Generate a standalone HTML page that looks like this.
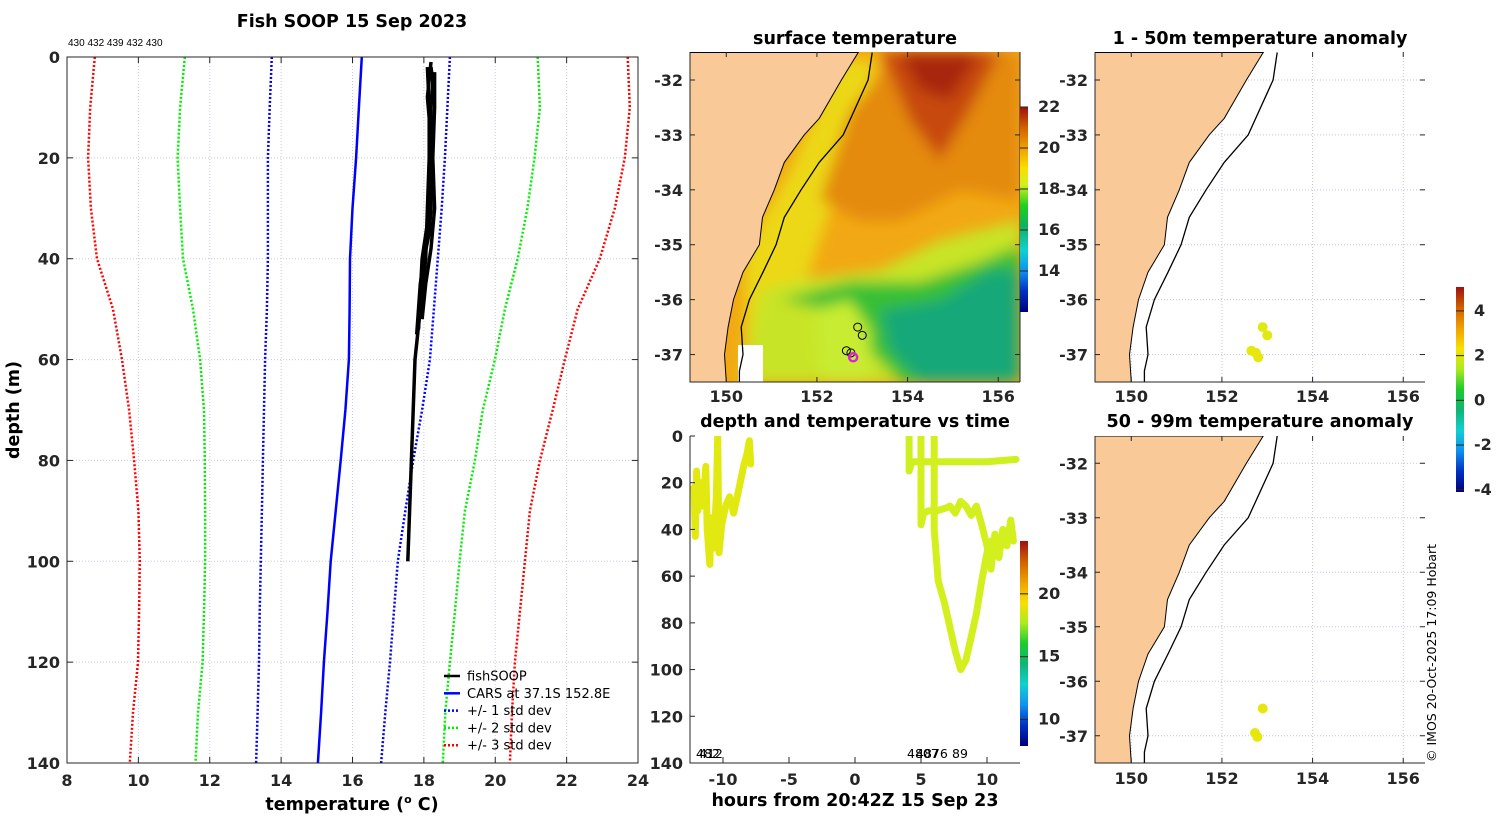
<!DOCTYPE html>
<html><head><meta charset="utf-8"><style>
body{margin:0;background:#fff;}
svg{display:block;font-family:"DejaVu Sans","Liberation Sans",sans-serif;}
.tk{font-size:16px;font-weight:bold;fill:#262626;}
.ti{font-size:17.5px;font-weight:bold;fill:#000;}
</style></head><body>
<svg id="fig" width="1500" height="820" viewBox="0 0 1500 820" xmlns="http://www.w3.org/2000/svg">
<defs>
<clipPath id="c1"><rect x="690" y="52" width="330" height="330"/></clipPath>
<clipPath id="c3"><rect x="690" y="436" width="330" height="327"/></clipPath>
<clipPath id="c4"><rect x="1095" y="52" width="330" height="330"/></clipPath>
<clipPath id="c5"><rect x="1095" y="436" width="330" height="327"/></clipPath>
<filter id="bl" x="-20%" y="-20%" width="140%" height="140%"><feGaussianBlur stdDeviation="7"/></filter>
<linearGradient id="sstcb" x1="0" y1="1" x2="0" y2="0">
<stop offset="0" stop-color="#00007a"/><stop offset="0.1" stop-color="#0030c0"/><stop offset="0.2" stop-color="#1090f0"/><stop offset="0.3" stop-color="#10d0d0"/><stop offset="0.42" stop-color="#10b060"/><stop offset="0.52" stop-color="#20d020"/><stop offset="0.62" stop-color="#d0f020"/><stop offset="0.7" stop-color="#f8e000"/><stop offset="0.8" stop-color="#f0a000"/><stop offset="0.9" stop-color="#d06000"/><stop offset="1" stop-color="#a01010"/></linearGradient>
</defs>
<g id="root"></g>
<text class="ti" x="352" y="27" text-anchor="middle">Fish SOOP 15 Sep 2023</text>
<text x="68" y="46" font-size="10" font-family="Liberation Sans, sans-serif">430 432 439 432 430</text>
<text class="ti" transform="translate(19,410) rotate(-90)" text-anchor="middle">depth (m)</text>
<text class="ti" x="352" y="810" text-anchor="middle">temperature (<tspan font-size="11" dy="-7">o</tspan><tspan dy="7"> C)</tspan></text>
<text class="ti" x="855" y="44" text-anchor="middle">surface temperature</text>
<text class="ti" x="855" y="427" text-anchor="middle">depth and temperature vs time</text>
<text class="ti" x="855" y="806" text-anchor="middle">hours from 20:42Z 15 Sep 23</text>
<text class="ti" x="1260" y="44" text-anchor="middle">1 - 50m temperature anomaly</text>
<text class="ti" x="1260" y="427" text-anchor="middle">50 - 99m temperature anomaly</text>
<text font-size="12.5" fill="#000" transform="translate(1436,762) rotate(-90)">© IMOS 20-Oct-2025 17:09 Hobart</text>
</svg>
<script>
// ---- profile data (depths in m, temps in degC) ----
const depths = [0,10,20,30,40,50,60,70,80,90,100,110,120,130,140];
const carsMean = [16.26,16.18,16.1,16.0,15.93,15.92,15.9,15.8,15.67,15.53,15.39,15.3,15.2,15.12,15.03];
const minus1 = [13.74,13.68,13.63,13.63,13.63,13.6,13.55,13.52,13.49,13.46,13.43,13.4,13.38,13.34,13.3];
const plus1 = [18.73,18.66,18.59,18.5,18.39,18.28,18.17,17.95,17.7,17.48,17.27,17.16,17.05,16.92,16.8];
const minus2 = [11.3,11.17,11.1,11.17,11.25,11.53,11.73,11.84,11.86,11.87,11.87,11.84,11.8,11.67,11.6];
const plus2 = [21.19,21.25,21.1,20.9,20.63,20.27,19.99,19.65,19.43,19.15,19.0,18.87,18.73,18.6,18.53];
const minus3 = [8.78,8.65,8.59,8.67,8.84,9.29,9.54,9.74,9.88,10.0,10.04,10.02,9.99,9.85,9.76];
const plus3 = [23.71,23.77,23.63,23.35,22.93,22.31,21.95,21.61,21.25,20.97,20.83,20.69,20.55,20.47,20.41];
const castDepthA = [2,5,10,20,30,35,40,45,50,55];
const castTempA = [18.2,18.25,18.2,18.2,18.2,18.15,18.0,17.9,17.85,17.8];
const castDepthB = [2,10,20,30,40,50,60,70,80,90,100];
const castTempB = [18.1,18.15,18.15,18.1,18.05,17.9,17.75,17.7,17.65,17.6,17.55];
const castDepthC = [3,10,20,30,38,45,52];
const castTempC = [18.3,18.3,18.25,18.3,18.2,18.05,17.95];
const castDepthD = [1,8,16,25,33,40,47,54];
const castTempD = [18.2,18.1,18.2,18.25,18.1,17.95,17.9,17.85];
const tempTicks = [8,10,12,14,16,18,20,22,24];
const depthTicks = [0,20,40,60,80,100,120,140];
// ---- time series ----
const tA = [-12.2,-12.1,-12.0,-11.9,-11.7,-11.5,-11.3,-11.2,-11.0,-10.9,-10.7,-10.5,-10.4,-10.3,-10.1,-9.8,-9.5,-9.2,-9.0,-8.7,-8.4,-8.2,-8.0,-7.9];
const dA = [22,43,15,32,20,30,13,40,55,35,48,25,0,50,38,30,26,33,28,20,12,8,2,12];
const tB = [4.1,4.1,4.3,6,8,10,12.2];
const dB = [0,15,11,11,11,11,10];
const tC = [5.0,5.0,5.2,5.6,6.2,6.8,7.2,7.6,8.0,8.4,8.8,9.2,9.6,10.0,10.3,10.6,10.9,11.2,11.5,11.8,12.0];
const dC = [0,38,33,32,32,31,30,33,28,30,34,30,38,47,57,42,52,40,47,36,45];
const tD = [6.0,6.0,6.3,6.8,7.2,7.6,8.0,8.4,8.8,9.2,9.6,10.0,10.3];
const dD = [0,40,62,72,82,92,100,96,86,76,62,50,45];
const tsTemps = [18.6,18.0,18.1,18.1];
const hourTicks = [-10,-5,0,5,10];
// ---- map data ----
const coastLat = [-31.5,-32,-32.7,-33,-33.5,-34,-34.5,-35,-35.5,-36,-36.5,-37,-37.5];
const coastLon = [152.91,152.54,152.05,151.72,151.28,151.06,150.8,150.73,150.37,150.16,150.04,149.96,150.0];
const isoLon = [153.22,153.13,152.58,152.05,151.65,151.28,151.1,150.81,150.51,150.33,150.37,150.29,150.29];
const isoLat = [-31.5,-32,-33,-33.5,-34,-34.5,-35,-35.5,-36,-36.5,-37,-37.3,-37.5];
const stnLon = [152.9,153.0,152.65,152.75,152.8];
const stnLat = [-36.5,-36.65,-36.93,-36.97,-37.05];
const anom1 = [1.9,1.9,2.0,2.0,2.0];
const stn2Lon = [152.9,152.73,152.78];
const stn2Lat = [-36.5,-36.95,-37.02];
const anom2 = [2.0,2.0,2.0];
const lonTicks = [150,152,154,156];
const latTicks = [-32,-33,-34,-35,-36,-37];
const sstTicks = [14,16,18,20,22];
const tsCbTicks = [10,15,20];
const anomTicks = [-4,-2,0,2,4];

const NS='http://www.w3.org/2000/svg';
const root=document.getElementById('root');
function mk(tag,at,parent){const e=document.createElementNS(NS,tag);for(const k in at)e.setAttribute(k,at[k]);(parent||root).appendChild(e);return e;}
function lin(d0,d1,r0,r1){return v=>r0+(v-d0)/(d1-d0)*(r1-r0);}
function jet(v,lo,hi){const t=Math.max(0,Math.min(1,(v-lo)/(hi-lo)));
 const st=[[0,[0,0,122]],[.1,[0,48,192]],[.2,[16,144,240]],[.3,[16,208,208]],[.42,[16,176,96]],[.52,[32,208,32]],[.62,[208,240,32]],[.7,[248,224,0]],[.8,[240,160,0]],[.9,[208,96,0]],[1,[160,16,16]]];
 for(let i=1;i<st.length;i++){if(t<=st[i][0]){const a=st[i-1],b=st[i],f=(t-a[0])/(b[0]-a[0]);return 'rgb('+a[1].map((c,j)=>Math.round(c+f*(b[1][j]-c))).join(',')+')';}}return 'rgb(160,16,16)';}
function txt(x,y,s,anchor,cls){const e=mk('text',{x:x,y:y,'text-anchor':anchor,class:cls||'tk'});e.textContent=s;return e;}

// ===== Profile panel =====
const px=lin(8,24,67,638), py=lin(0,140,57,763);
tempTicks.forEach(t=>{const x=px(t);
 let g=mk('line',{x1:x,x2:x,y1:57,y2:763,stroke:'#c8c8e0','stroke-dasharray':'1,2','stroke-width':1});
 
 mk('line',{x1:x,x2:x,y1:763,y2:757,stroke:'#262626'});mk('line',{x1:x,x2:x,y1:57,y2:63,stroke:'#262626'});
 const l=txt(x,786,String(t),'middle');});
depthTicks.forEach(d=>{const y=py(d);
 let g=mk('line',{x1:67,x2:638,y1:y,y2:y,stroke:'#c8c8e0','stroke-dasharray':'1,2','stroke-width':1});
 
 mk('line',{x1:67,x2:73,y1:y,y2:y,stroke:'#262626'});mk('line',{x1:638,x2:632,y1:y,y2:y,stroke:'#262626'});
 const l=txt(60,y+6,String(d),'end');});
function prof(ts,ds,col,dash,w,name){const p=ts.map((t,i)=>px(t).toFixed(1)+','+py(ds[i]).toFixed(1)).join(' ');
 const e=mk('polyline',{points:p,fill:'none',stroke:col,'stroke-width':w,'stroke-dasharray':dash,'stroke-linejoin':'round'});
 }
prof(minus3,depths,'#ff0000','2,2',2.5,'minus-3-std-line');
prof(plus3,depths,'#ff0000','2,2',2.5,'plus-3-std-line');
prof(minus2,depths,'#00ee00','2,2',2.5,'minus-2-std-line');
prof(plus2,depths,'#00ee00','2,2',2.5,'plus-2-std-line');
prof(minus1,depths,'#0000ff','2,2',2.5,'minus-1-std-line');
prof(plus1,depths,'#0000ff','2,2',2.5,'plus-1-std-line');
prof(carsMean,depths,'#0000ff','none',2.5,'cars-mean-line');
prof(castTempA,castDepthA,'#000','none',3.5,'fishsoop-cast-a');
prof(castTempB,castDepthB,'#000','none',3.5,'fishsoop-cast-b');
prof(castTempC,castDepthC,'#000','none',3.5,'fishsoop-cast-c');
prof(castTempD,castDepthD,'#000','none',3.5,'fishsoop-cast-d');
let b=mk('rect',{x:67,y:57,width:571,height:706,fill:'none',stroke:'#262626'});

const leg=[['fishSOOP','#000','none'],['CARS at 37.1S 152.8E','#0000ff','none'],['+/- 1 std dev','#0000ff','2,2'],['+/- 2 std dev','#00ee00','2,2'],['+/- 3 std dev','#ff0000','2,2']];
leg.forEach((l,i)=>{const y=676+i*17.3;
 const ln=mk('line',{x1:444,x2:460,y1:y,y2:y,stroke:l[1],'stroke-width':2.5,'stroke-dasharray':l[2]});
 
 const t=mk('text',{x:467,y:y+4.5,'font-size':13,fill:'#000'});t.textContent=l[0];
 });

// ===== Map helpers =====
function mapAxes(x0,y0,w,h,latTop,latBot,lonLabelY,grid,name){
 const mx=lin(149.2,156.48,x0,x0+w), my=lin(latTop,latBot,y0,y0+h);
 if(grid){lonTicks.forEach(l=>{const g=mk('line',{x1:mx(l),x2:mx(l),y1:y0,y2:y0+h,stroke:'#c0c4e8','stroke-dasharray':'1,2'});});
  latTicks.forEach(l=>{const g=mk('line',{x1:x0,x2:x0+w,y1:my(l),y2:my(l),stroke:'#c0c4e8','stroke-dasharray':'1,2'});});}
 return [mx,my];}
function land(mx,my,x0,clip,name){
 const pts=coastLon.map((l,i)=>mx(l).toFixed(1)+','+my(coastLat[i]).toFixed(1));
 const g=mk('g',{'clip-path':'url(#'+clip+')'});
 const p=mk('polygon',{points:x0+','+my(-31.5)+' '+pts.join(' ')+' '+x0+','+my(-37.6),fill:'#f9c997',stroke:'#000','stroke-width':1},g);
 
 const iso=mk('polyline',{points:isoLon.map((l,i)=>mx(l).toFixed(1)+','+my(isoLat[i]).toFixed(1)).join(' '),fill:'none',stroke:'#000','stroke-width':1.3},g);
 
 return g;}
function mapTicks(mx,my,x0,y0,w,h,lonLabelY,showLon){
 latTicks.forEach(l=>{const y=my(l);mk('line',{x1:x0,x2:x0+5,y1:y,y2:y,stroke:'#262626'});mk('line',{x1:x0+w,x2:x0+w-5,y1:y,y2:y,stroke:'#262626'});
  const t=txt(x0-7,y+6,String(l),'end');});
 lonTicks.forEach(l=>{const x=mx(l);mk('line',{x1:x,x2:x,y1:y0+h,y2:y0+h-5,stroke:'#262626'});mk('line',{x1:x,x2:x,y1:y0,y2:y0+5,stroke:'#262626'});
  if(showLon){const t=txt(x,lonLabelY,String(l),'middle');}});
 mk('polyline',{points:(x0)+','+y0+' '+x0+','+(y0+h)+' '+(x0+w)+','+(y0+h),fill:'none',stroke:'#262626'});}
function cbar(x,y0,y1,lo,hi,ticks,fill,name){
 const r=mk('rect',{x:x,y:y0,width:8,height:y1-y0,fill:fill});
 const s=lin(lo,hi,y1,y0);ticks.forEach(t=>{const y=s(t);mk('line',{x1:x,x2:x+8,y1:y,y2:y,stroke:'#262626'});
  const l=txt(x+18,y+5,String(t),'start');l.setAttribute('font-size','14');});}

// ===== SST map =====
(function(){const [mx,my]=mapAxes(690,52,330,330,-31.49,-37.5,402,false);
 const g=mk('g',{'clip-path':'url(#c1)'});
 mk('rect',{x:690,y:52,width:330,height:330,fill:'#f2a814'},g);
 const f=mk('g',{filter:'url(#bl)'},g);
 mk('polygon',{points:'745,380 745,250 790,170 840,60 875,60 860,140 830,210 800,300 800,382',fill:'#ecd814'},f);
 mk('polygon',{points:'820,200 850,110 900,52 1020,52 1020,200 960,190 900,220 860,220',fill:'#e48a10'},f);
 mk('polygon',{points:'880,52 1000,52 970,110 940,160 910,120 895,85',fill:'#c84a10'},f);
 mk('polygon',{points:'900,52 980,52 950,100 920,90',fill:'#a82808'},f);
 mk('polygon',{points:'740,382 760,290 800,280 880,270 940,240 1020,220 1020,382',fill:'#c8e428'},f);
 mk('polygon',{points:'780,300 850,282 920,282 980,262 1020,245 1020,382 900,382 860,340 830,310',fill:'#38c034'},f);
 mk('polygon',{points:'880,310 940,300 990,270 1020,270 1020,382 920,382 890,350',fill:'#14a878'},f);
 mk('polygon',{points:'815,310 850,300 870,330 870,382 820,382',fill:'#c8ec30'},f);
 mk('rect',{x:738,y:345,width:25,height:37,fill:'#ffffff'},g);
 land(mx,my,690,'c1','sst');
 stnLon.forEach((l,i)=>{const c=mk('circle',{cx:mx(l),cy:my(stnLat[i]),r:4,fill:'none',stroke:i==4?'#e020e0':'#000','stroke-width':i==4?2.5:1});
  });
 mapTicks(mx,my,690,52,330,330,402,true);
 mk('line',{x1:1020,x2:1020,y1:52,y2:382,stroke:'#262626'});
 cbar(1020,107,312,12,22,sstTicks,'url(#sstcb)','sst-colorbar');})();

// ===== time panel =====
(function(){const tx=lin(-12.5,12.5,690,1020), ty=lin(0,140,436,763);
 const g=mk('g',{'clip-path':'url(#c3)'});
 [[tA,dA],[tB,dB],[tC,dC],[tD,dD]].forEach((s,k)=>{const p=s[0].map((t,i)=>tx(t).toFixed(1)+','+ty(s[1][i]).toFixed(1)).join(' ');
  const e=mk('polyline',{points:p,fill:'none',stroke:jet(tsTemps[k],7.9,24.2),'stroke-width':7,'stroke-linejoin':'round','stroke-linecap':'round'},g);
  });
 hourTicks.forEach(h=>{const x=tx(h);mk('line',{x1:x,x2:x,y1:763,y2:757,stroke:'#262626'});
  const t=txt(x,785,String(h),'middle');});
 depthTicks.forEach(d=>{const y=ty(d);mk('line',{x1:690,x2:695,y1:y,y2:y,stroke:'#262626'});
  const t=txt(683,y+6,String(d),'end');});
 mk('polyline',{points:'690,436 690,763 1020,763',fill:'none',stroke:'#262626'});
 [['482',696],['412',699],['4807',907],['4876',916],['89',952]].forEach(a=>{const t=mk('text',{x:a[1],y:758,'font-size':12.5,fill:'#000'});t.textContent=a[0];
  });
 const cbg=mk('linearGradient',{id:'tscb',x1:0,y1:1,x2:0,y2:0},document.querySelector('defs'));
 for(let i=0;i<=10;i++){mk('stop',{offset:i/10,'stop-color':jet(i/10,0,1)},cbg);}
 cbar(1020,541,746,7.9,24.2,tsCbTicks,'url(#tscb)','time-colorbar');})();

// ===== anomaly maps =====
function anomMap(y0,h,latTop,latBot,lons,lats,vals,clip,lonY,name){
 const [mx,my]=mapAxes(1095,y0,330,h,latTop,latBot,lonY,true);
 land(mx,my,1095,clip,name);
 lons.forEach((l,i)=>{const c=mk('circle',{cx:mx(l),cy:my(lats[i]),r:5,fill:jet(vals[i],-4.1,5.07)});
  });
 mapTicks(mx,my,1095,y0,330,h,lonY,true);}
anomMap(52,330,-31.49,-37.5,stnLon,stnLat,anom1,'c4',402,'anom1');
anomMap(436,327,-31.5,-37.5,stn2Lon,stn2Lat,anom2,'c5',784,'anom2');
const ag=mk('linearGradient',{id:'ancb',x1:0,y1:1,x2:0,y2:0},document.querySelector('defs'));
for(let i=0;i<=10;i++){mk('stop',{offset:i/10,'stop-color':jet(i/10,0,1)},ag);}
cbar(1456,287,492,-4.1,5.07,anomTicks,'url(#ancb)','anomaly-colorbar');
</script>
</body></html>
